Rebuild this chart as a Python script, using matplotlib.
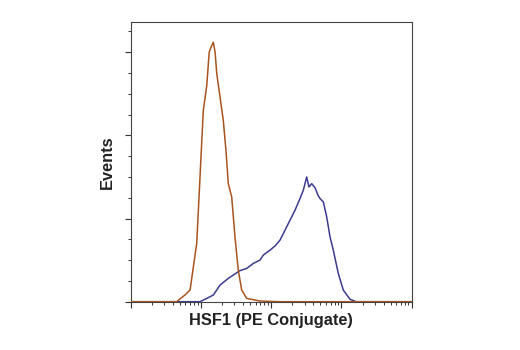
import matplotlib
matplotlib.use("Agg")
import matplotlib.pyplot as plt
from matplotlib.ticker import LogLocator, MultipleLocator, NullFormatter

# Data
control_x = [10, 45, 59, 70, 87, 97, 108, 121, 131, 139, 150, 159, 168, 187, 208,
             227, 245, 274, 305, 340, 380, 448, 692, 1334, 100000]
control_y = [0, 0, 4, 7, 35, 75, 115, 130, 150, 153, 156, 150, 137, 123, 109,
             91, 71, 63, 39, 19, 7, 2, 0.4, 0, 0]

hsf1_x = [10, 97, 121, 150, 187, 245, 288, 360, 448, 556, 692, 772, 962, 1133,
          1334, 1660, 1958, 2182, 2570, 2864, 3197, 3450, 3773, 4206, 4638, 4955,
          5521, 6166, 6871, 7656, 9016, 10620, 13240, 16110, 100000]
hsf1_y = [0, 0, 2, 4, 10, 14, 16, 18.7, 20, 23, 25, 28, 31, 33.5,
          37, 45, 51, 55, 62, 67, 75, 69, 71, 68.5, 64, 62,
          60, 51, 39, 31, 17, 7, 1.5, 0, 0]

x_label = "HSF1 (PE Conjugate)"
y_label = "Events"

label_family = ["Liberation Sans", "DejaVu Sans"]

fig = plt.figure(figsize=(5.2, 3.5), dpi=100)
ax = fig.add_axes([130.7/520, 1 - 301.7/350, (411.7-130.7)/520, (301.7-22.3)/350])

ax.plot(hsf1_x, hsf1_y, color="#3b3b8f", lw=1.1, zorder=3)
ax.plot(control_x, control_y, color="#a8541f", lw=1.1, zorder=4)

ax.set_xscale("log")
ax.set_xlim(10, 1e5)
ax.set_ylim(0, 168)

ax.xaxis.set_major_locator(LogLocator(base=10, numticks=10))
ax.xaxis.set_minor_locator(LogLocator(base=10, subs=range(2, 10), numticks=20))
ax.xaxis.set_major_formatter(NullFormatter())
ax.xaxis.set_minor_formatter(NullFormatter())
ax.yaxis.set_major_locator(MultipleLocator(50))
ax.yaxis.set_minor_locator(MultipleLocator(12.5))
ax.yaxis.set_major_formatter(NullFormatter())

ax.tick_params(which="major", length=4, width=0.8, color="#333333", direction="out")
ax.tick_params(which="minor", length=2.4, width=0.7, color="#333333", direction="out")

for s in ax.spines.values():
    s.set_color("#444444")
    s.set_linewidth(0.8)

ax.set_xlabel(x_label, family=label_family, fontsize=11.8, fontweight="bold",
              color="#222222")
ax.set_ylabel(y_label, family=label_family, fontsize=11.8, fontweight="bold",
              color="#222222")
ax.xaxis.set_label_coords(0.5, -0.041)
ax.yaxis.set_label_coords(-0.056, 0.5)

fig.savefig("out.png", dpi=100)
